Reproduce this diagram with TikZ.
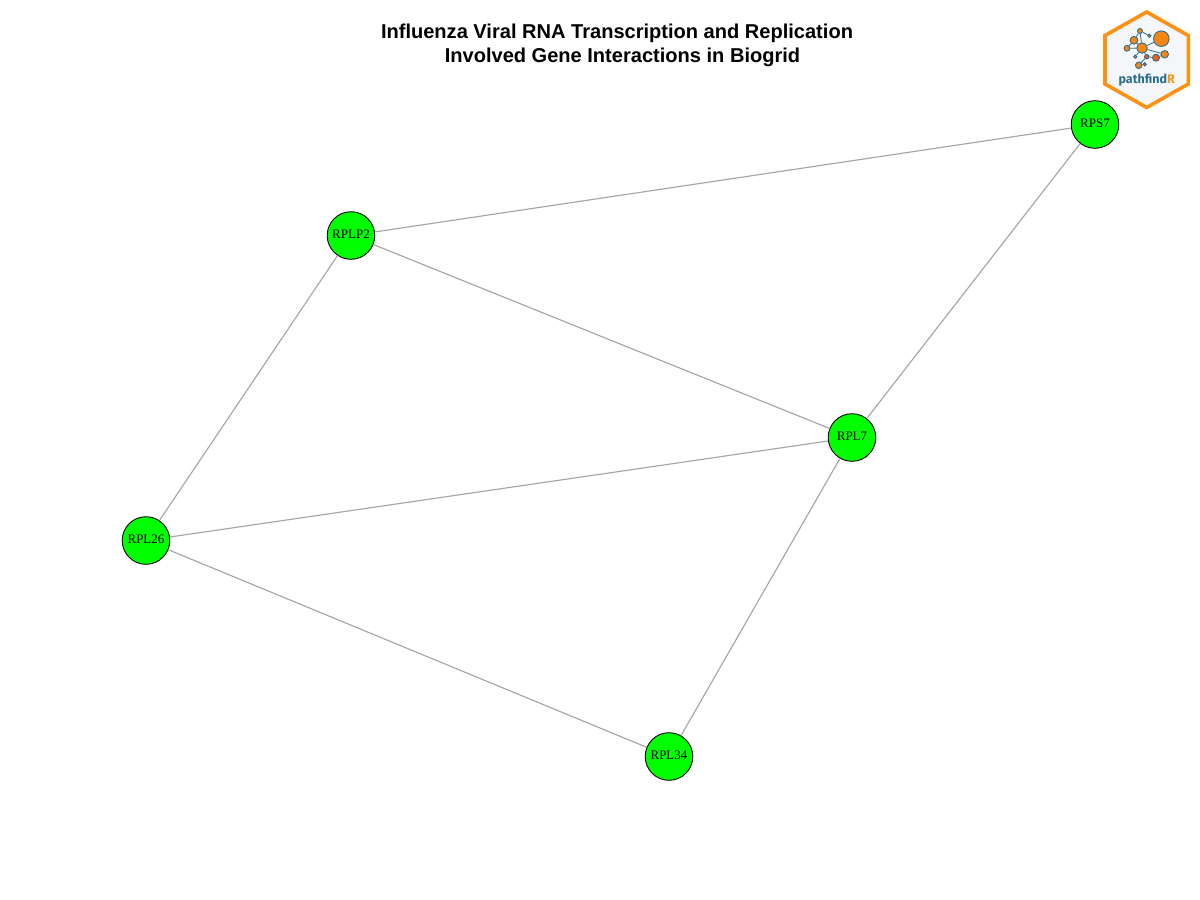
\documentclass[tikz,border=0pt]{standalone}
\usepackage{fontspec}
\setmainfont{Liberation Serif}
\newfontfamily\sansf{Liberation Sans}
\newfontfamily\logof{Fira Sans}
\definecolor{edgegray}{RGB}{166,166,166}
\definecolor{logoorange}{RGB}{253,145,20}
\definecolor{logoblue}{RGB}{40,110,145}
\definecolor{dotorange}{RGB}{248,135,15}
\definecolor{dotred}{RGB}{245,90,20}
\definecolor{logobg}{RGB}{244,246,249}
\tikzset{
  gene/.style={circle,draw=black,fill=green,line width=0.9pt,minimum size=47.6pt,inner sep=0pt,font=\fontsize{13}{13}\selectfont},
  edgeline/.style={draw=edgegray,line width=1.15pt},
  titletext/.style={font=\sansf\bfseries\fontsize{20.05}{24}\selectfont,align=center,inner sep=0pt,text=black},
  dot/.style={circle,draw=logoblue,fill=dotorange,line width=0.9pt,inner sep=0pt},
  logolink/.style={draw=logoblue,line width=0.8pt}
}
\newcommand{\genelabel}[1]{\raisebox{1pt}[\height][\depth]{#1}}
\begin{document}
\begin{tikzpicture}[x=1pt,y=-1pt]
\useasboundingbox (0,0) rectangle (1200,900);
\fill[white] (0,0) rectangle (1200,900);
\node[titletext] (title) at (617,45) {Influenza Viral RNA Transcription and Replication\\\hspace*{11pt}Involved Gene Interactions in Biogrid};
\node[gene] (rps7) at (1095,124.5) {\genelabel{RPS7}};
\node[gene] (rplp2) at (351,235.5) {\genelabel{RPLP2}};
\node[gene] (rpl7) at (852,437.5) {\genelabel{RPL7}};
\node[gene] (rpl26) at (146,540.5) {\genelabel{RPL26}};
\node[gene] (rpl34) at (669,756.5) {\genelabel{RPL34}};
\draw[edgeline] (rplp2) -- (rps7);
\draw[edgeline] (rps7) -- (rpl7);
\draw[edgeline] (rplp2) -- (rpl7);
\draw[edgeline] (rplp2) -- (rpl26);
\draw[edgeline] (rpl26) -- (rpl7);
\draw[edgeline] (rpl7) -- (rpl34);
\draw[edgeline] (rpl26) -- (rpl34);
% logo
\draw[draw=logoorange,fill=logobg,line width=3.6pt,miter limit=10]
  (1146.7,12) -- (1188.3,35.5) -- (1188.3,84) -- (1146.7,107.5) -- (1105,84) -- (1105,35.5) -- cycle;
\node[dot,minimum size=15.5pt] (big) at (1161.3,38.7) {};
\node[dot,minimum size=10.5pt] (hub) at (1142,48) {};
\node[dot,minimum size=7.8pt] (a) at (1134,40.3) {};
\node[dot,minimum size=5.8pt] (b) at (1127,48.3) {};
\node[dot,minimum size=5pt] (c) at (1140,31) {};
\node[dot,minimum size=3.4pt] (d) at (1149.3,35.7) {};
\node[dot,minimum size=7.5pt] (e) at (1164.7,54.3) {};
\node[dot,minimum size=7pt,fill=dotred] (f) at (1156,57.7) {};
\node[dot,minimum size=4.4pt,fill=dotred] (g) at (1146.7,56.7) {};
\node[dot,minimum size=6.5pt] (h) at (1138.7,65.3) {};
\node[dot,minimum size=3.4pt] (i) at (1135.3,56.7) {};
\node[dot,minimum size=3.4pt,fill=dotred] (j) at (1144.7,64.3) {};
\draw[logolink] (hub)--(big) (hub)--(a) (hub)--(b) (a)--(c) (c)--(d) (c)--(hub) (hub)--(e) (hub)--(i) (hub)--(g) (g)--(f) (g)--(h) (f)--(e) (h)--(j) (a)--(b);
\node[font=\logof\bfseries\fontsize{12.5}{13}\selectfont,inner sep=0pt,text=logoblue] (logotext) at (1146.7,80.5) {pathfind\textcolor{logoorange}{R}};
\end{tikzpicture}
\end{document}
